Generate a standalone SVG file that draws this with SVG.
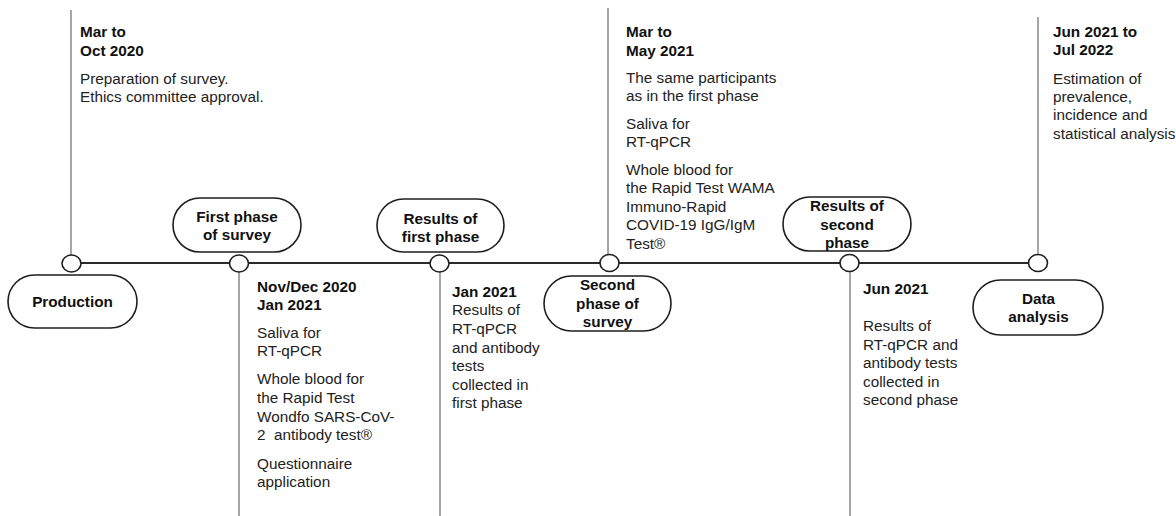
<svg xmlns="http://www.w3.org/2000/svg" width="1176" height="516" viewBox="0 0 1176 516">
<style>
.bg{fill:#ffffff}
.stem{stroke:#a6a6a6;stroke-width:2;fill:none}
.axis{stroke:#2a2a2a;stroke-width:2;fill:none}
.dot{fill:#ffffff;stroke:#1e1e1e;stroke-width:1.6}
.pill{fill:#ffffff;stroke:#1e1e1e;stroke-width:1.6}
.lbl{font-family:"Liberation Sans",Arial,sans-serif;font-size:15.3px;font-weight:bold;fill:#111;text-anchor:middle}
.hd{font-family:"Liberation Sans",Arial,sans-serif;font-size:15.3px;font-weight:bold;fill:#111}
.tx{font-family:"Liberation Sans",Arial,sans-serif;font-size:15.3px;fill:#222}
</style>
<rect class="bg" x="0" y="0" width="1176" height="516"/>
<g id="connectors">
<line class="stem" x1="71" y1="10" x2="71" y2="255"/>
<line class="stem" x1="239" y1="271" x2="239" y2="516"/>
<line class="stem" x1="440" y1="271" x2="440" y2="516"/>
<line class="stem" x1="608" y1="8" x2="608" y2="255"/>
<line class="stem" x1="850" y1="271" x2="850" y2="516"/>
<line class="stem" x1="1038" y1="17" x2="1038" y2="255"/>
<line class="axis" x1="81" y1="263" x2="1029" y2="263"/>
</g>
<g id="node-production">
<ellipse class="dot" cx="71.5" cy="263.5" rx="9.5" ry="8.5"/>
<rect class="pill" x="8" y="275" width="129" height="53" rx="26.5"/>
<text class="lbl" x="72.5" y="307">Production</text>
<text class="hd" x="80" y="37">Mar to</text>
<text class="hd" x="80" y="56">Oct 2020</text>
<text class="tx" x="80" y="84">Preparation of survey.</text>
<text class="tx" x="80" y="102">Ethics committee approval.</text>
</g>
<g id="node-first-phase">
<ellipse class="dot" cx="239" cy="263.5" rx="9.5" ry="8.5"/>
<rect class="pill" x="173" y="198" width="128" height="54" rx="27"/>
<text class="lbl" x="237" y="222">First phase</text>
<text class="lbl" x="237" y="240">of survey</text>
<text class="hd" x="257" y="292">Nov/Dec 2020</text>
<text class="hd" x="257" y="310">Jan 2021</text>
<text class="tx" x="257" y="338">Saliva for</text>
<text class="tx" x="257" y="356">RT-qPCR</text>
<text class="tx" x="257" y="384">Whole blood for</text>
<text class="tx" x="257" y="403">the Rapid Test</text>
<text class="tx" x="257" y="422">Wondfo SARS-CoV-</text>
<text class="tx" x="257" y="440" xml:space="preserve">2  antibody test®</text>
<text class="tx" x="257" y="469">Questionnaire</text>
<text class="tx" x="257" y="487">application</text>
</g>
<g id="node-results-first">
<ellipse class="dot" cx="439.5" cy="263.5" rx="9.5" ry="8.5"/>
<rect class="pill" x="377" y="199" width="127" height="53" rx="26.5"/>
<text class="lbl" x="440.5" y="224">Results of</text>
<text class="lbl" x="440.5" y="242">first phase</text>
<text class="hd" x="452" y="297">Jan 2021</text>
<text class="tx" x="452" y="315">Results of</text>
<text class="tx" x="452" y="334">RT-qPCR</text>
<text class="tx" x="452" y="353">and antibody</text>
<text class="tx" x="452" y="371">tests</text>
<text class="tx" x="452" y="390">collected in</text>
<text class="tx" x="452" y="408">first phase</text>
</g>
<g id="node-second-phase">
<ellipse class="dot" cx="609.5" cy="263" rx="9.5" ry="8.5"/>
<rect class="pill" x="544" y="276" width="127" height="55" rx="27.5"/>
<text class="lbl" x="607.5" y="290">Second</text>
<text class="lbl" x="607.5" y="308.5">phase of</text>
<text class="lbl" x="607.5" y="327">survey</text>
<text class="hd" x="626" y="37">Mar to</text>
<text class="hd" x="626" y="56">May 2021</text>
<text class="tx" x="626" y="83">The same participants</text>
<text class="tx" x="626" y="101">as in the first phase</text>
<text class="tx" x="626" y="128.5">Saliva for</text>
<text class="tx" x="626" y="147">RT-qPCR</text>
<text class="tx" x="626" y="174.5">Whole blood for</text>
<text class="tx" x="626" y="193">the Rapid Test WAMA</text>
<text class="tx" x="626" y="211.5">Immuno-Rapid</text>
<text class="tx" x="626" y="230">COVID-19 IgG/IgM</text>
<text class="tx" x="626" y="248.5">Test®</text>
</g>
<g id="node-results-second">
<ellipse class="dot" cx="849.5" cy="263" rx="9.5" ry="8.5"/>
<rect class="pill" x="783" y="197" width="128" height="54" rx="27"/>
<text class="lbl" x="847" y="211">Results of</text>
<text class="lbl" x="847" y="229.5">second</text>
<text class="lbl" x="847" y="247.5">phase</text>
<text class="hd" x="863" y="293.5">Jun 2021</text>
<text class="tx" x="863" y="331">Results of</text>
<text class="tx" x="863" y="349.5">RT-qPCR and</text>
<text class="tx" x="863" y="368">antibody tests</text>
<text class="tx" x="863" y="387">collected in</text>
<text class="tx" x="863" y="405">second phase</text>
</g>
<g id="node-data-analysis">
<ellipse class="dot" cx="1038" cy="263" rx="9.5" ry="8.5"/>
<rect class="pill" x="973" y="280" width="130" height="55" rx="27.5"/>
<text class="lbl" x="1038.5" y="303.5">Data</text>
<text class="lbl" x="1038.5" y="322">analysis</text>
<text class="hd" x="1053" y="37">Jun 2021 to</text>
<text class="hd" x="1053" y="55">Jul 2022</text>
<text class="tx" x="1053" y="83.5">Estimation of</text>
<text class="tx" x="1053" y="102">prevalence,</text>
<text class="tx" x="1053" y="120">incidence and</text>
<text class="tx" x="1053" y="138.5">statistical analysis</text>
</g>
</svg>
